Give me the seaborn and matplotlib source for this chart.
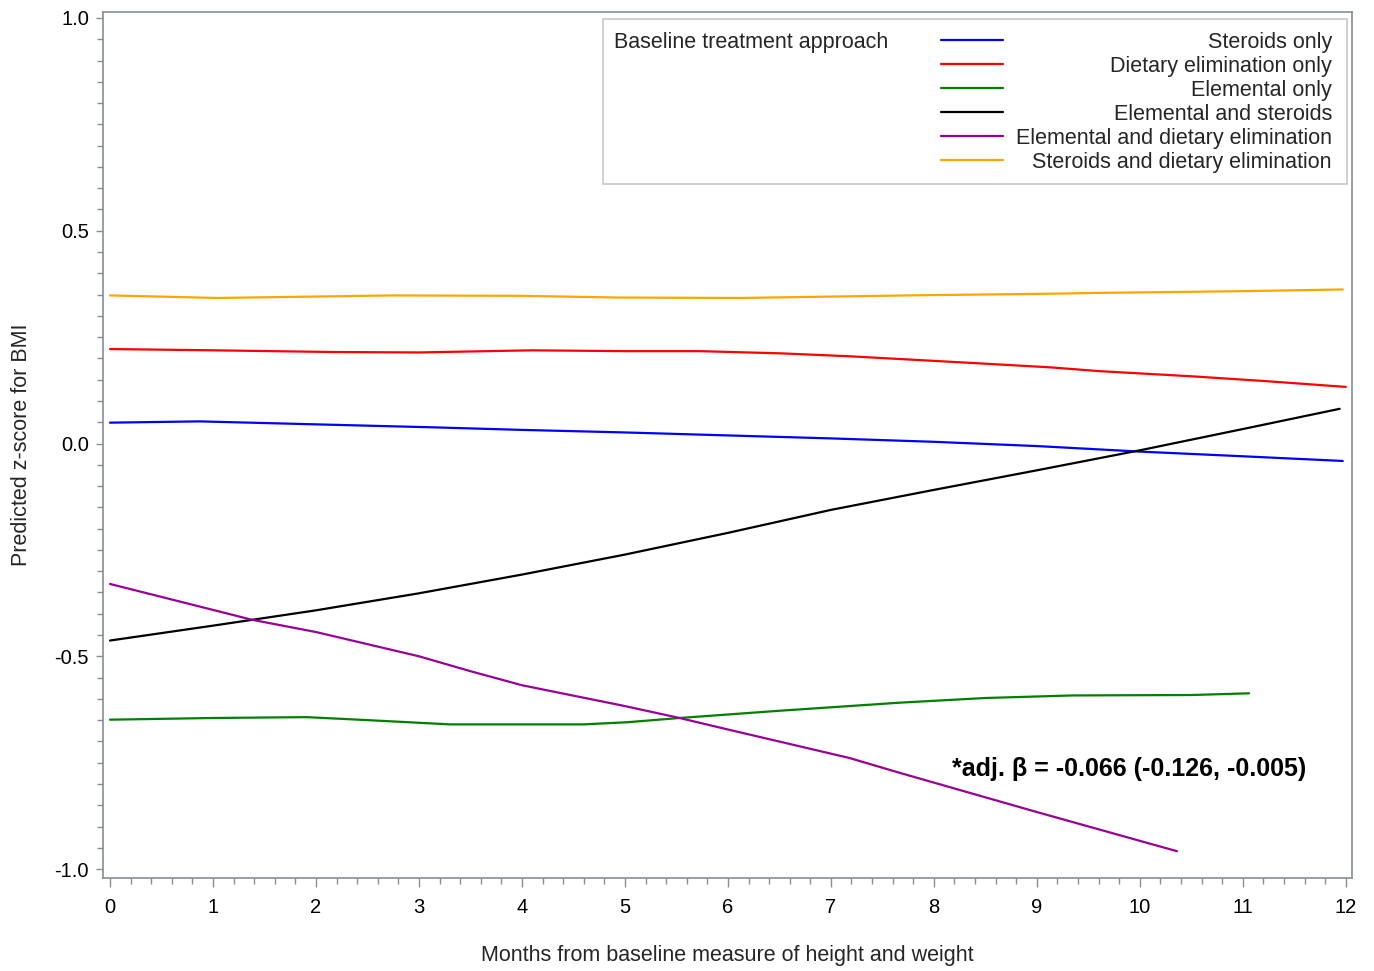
import matplotlib
matplotlib.use("Agg")
import matplotlib.pyplot as plt
from matplotlib.lines import Line2D
from matplotlib.patches import Rectangle
from matplotlib.ticker import MultipleLocator, FormatStrFormatter
import seaborn as sns
import pandas as pd

# ---------------- data ----------------
groups = ["Steroids only", "Dietary elimination only", "Elemental only",
          "Elemental and steroids", "Elemental and dietary elimination",
          "Steroids and dietary elimination"]
colors = ["#0000FF", "#FF0000", "#008000", "#000000", "#990099", "#FFA500"]

steroids_x = [0, 0.87, 1.84, 3.14, 4.0, 5.0, 6.0, 7.0, 8.0, 9.0, 10.0, 11.0, 11.97]
steroids_y = [0.049, 0.052, 0.046, 0.038, 0.032, 0.026, 0.019, 0.012, 0.004, -0.006, -0.019, -0.030, -0.041]

dietary_x = [0, 1.0, 2.17, 3.0, 4.1, 5.0, 5.73, 6.5, 7.18, 8.32, 9.13, 9.61, 10.5, 11.2, 12.0]
dietary_y = [0.222, 0.219, 0.215, 0.214, 0.219, 0.217, 0.217, 0.212, 0.205, 0.190, 0.179, 0.170, 0.158, 0.147, 0.133]

elemental_x = [0, 1.0, 1.91, 2.5, 3.3, 4.6, 5.02, 5.53, 6.5, 7.67, 8.5, 9.35, 10.5, 11.06]
elemental_y = [-0.649, -0.645, -0.643, -0.650, -0.660, -0.660, -0.655, -0.645, -0.628, -0.609, -0.598, -0.592, -0.591, -0.587]

elem_ster_x = [0, 1.0, 2.0, 3.0, 4.0, 5.0, 6.0, 7.0, 8.0, 9.0, 10.0, 11.0, 11.94]
elem_ster_y = [-0.463, -0.428, -0.392, -0.352, -0.308, -0.261, -0.210, -0.156, -0.109, -0.063, -0.016, 0.034, 0.0815]

elem_diet_x = [0, 1.0, 1.375, 2.0, 3.0, 3.5, 4.0, 5.0, 5.53, 6.0, 7.18, 7.67, 9.0, 10.36]
elem_diet_y = [-0.330, -0.391, -0.414, -0.443, -0.500, -0.535, -0.568, -0.617, -0.645, -0.672, -0.739, -0.774, -0.866, -0.958]

ster_diet_x = [0, 1.04, 2.75, 4.0, 4.95, 6.12, 7.74, 9.13, 9.61, 11.0, 11.97]
ster_diet_y = [0.348, 0.342, 0.348, 0.347, 0.343, 0.342, 0.348, 0.352, 0.354, 0.358, 0.362]

xticks = list(range(0, 13))
yticks = [-1.0, -0.5, 0.0, 0.5, 1.0]
x_label = "Months from baseline measure of height and weight"
y_label = "Predicted z-score for BMI"
legend_title = "Baseline treatment approach"
annotation = "*adj. \u03b2 = -0.066 (-0.126, -0.005)"

series_x = [steroids_x, dietary_x, elemental_x, elem_ster_x, elem_diet_x, ster_diet_x]
series_y = [steroids_y, dietary_y, elemental_y, elem_ster_y, elem_diet_y, ster_diet_y]

rows = []
for g, xs, ys in zip(groups, series_x, series_y):
    for xv, yv in zip(xs, ys):
        rows.append({"month": xv, "z": yv, "group": g})
df = pd.DataFrame(rows)

# ---------------- style ----------------
sns.set_style("white")
plt.rcParams["font.family"] = ["Liberation Sans", "DejaVu Sans"]
plt.rcParams["axes.unicode_minus"] = False
spine_col = "#868E96"

W, H = 1374, 971
fig = plt.figure(figsize=(W / 100, H / 100), dpi=100)
ax_l, ax_t, ax_r, ax_b = 103, 12, 1352, 878
ax = fig.add_axes([ax_l / W, 1 - ax_b / H, (ax_r - ax_l) / W, (ax_b - ax_t) / H])

sns.lineplot(data=df, x="month", y="z", hue="group", hue_order=groups,
             palette=dict(zip(groups, colors)), estimator=None, sort=True,
             linewidth=1.6, legend=False, ax=ax)

ax.set_xlim(-0.068, 12.06)
ax.set_ylim(-1.021, 1.014)
ax.set_xticks(xticks)
ax.set_yticks(yticks)
ax.xaxis.set_minor_locator(MultipleLocator(0.2))
ax.yaxis.set_minor_locator(MultipleLocator(0.05))
ax.yaxis.set_major_formatter(FormatStrFormatter("%.1f"))

for s in ax.spines.values():
    s.set_color(spine_col)
    s.set_linewidth(1.2)

ax.tick_params(axis="x", which="major", direction="out", length=6.5, width=1,
               color=spine_col, labelsize=14.5, pad=8, labelcolor="black", bottom=True)
ax.tick_params(axis="x", which="minor", direction="out", length=4.3, width=1,
               color=spine_col, bottom=True)
ax.tick_params(axis="y", which="major", direction="out", length=5, width=1,
               color=spine_col, labelsize=14.5, pad=5, labelcolor="black", left=True)
ax.tick_params(axis="y", which="minor", direction="out", length=4, width=1,
               color=spine_col, left=True)

ax.set_xlabel(x_label, fontsize=15.5, labelpad=20)
ax.set_ylabel(y_label, fontsize=15.5, labelpad=16)

ax.text(8.18, -0.764, annotation, fontsize=18, fontweight="bold",
        ha="left", va="center", color="black")

# ---------------- legend (title on the left, right-aligned labels) ----------------
def axx(px):
    return (px - ax_l) / (ax_r - ax_l)

def axy(py):
    return 1 - (py - ax_t) / (ax_b - ax_t)

box = Rectangle((axx(603), axy(184)), axx(1347) - axx(603), axy(19) - axy(184),
                transform=ax.transAxes, facecolor="white", edgecolor="#C8C8C8",
                linewidth=1.2, zorder=5)
ax.add_patch(box)
ax.text(axx(614), axy(42), legend_title, transform=ax.transAxes, fontsize=15.5,
        ha="left", va="center", zorder=6)
row_py = [40, 64, 88, 112, 136, 160]
for g, c, py in zip(groups, colors, row_py):
    ax.add_line(Line2D([axx(941), axx(1003)], [axy(py), axy(py)], color=c,
                       linewidth=1.6, transform=ax.transAxes, zorder=6))
    ax.text(axx(1332), axy(py + 2), g, transform=ax.transAxes, fontsize=15.5,
            ha="right", va="center", zorder=6)

fig.savefig("out.png", dpi=100)
